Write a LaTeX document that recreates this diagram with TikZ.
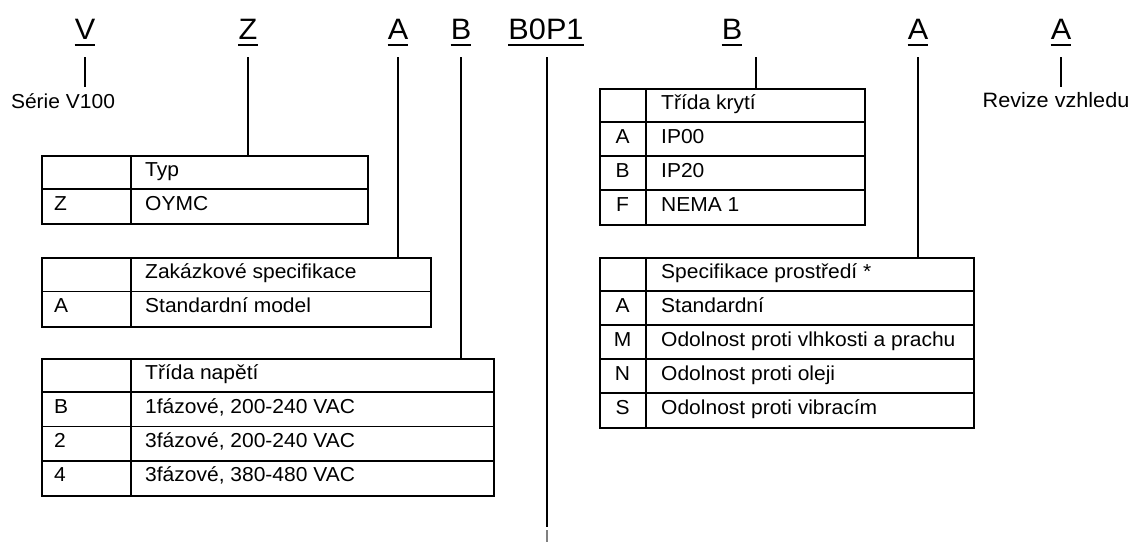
\documentclass[tikz,border=0pt]{standalone}
\usepackage{fontspec}
\setmainfont{Liberation Sans}[FakeStretch=1.04]
\begin{document}
\begin{tikzpicture}[x=1pt,y=-1pt,
  big/.style={font=\fontsize{29.5}{34}\selectfont, inner sep=0pt, anchor=base},
  txt/.style={font=\fontsize{20.2}{24}\selectfont, inner sep=0pt, anchor=base west},
  ltr/.style={txt, anchor=base},
  conn/.style={line width=1.3pt},
  tbl/.style={line width=1.6pt},
  tblbox/.style={draw, line width=1.6pt, inner sep=0pt, anchor=north west},
  ul/.style={line width=1.5pt}]
\useasboundingbox (0,0) rectangle (1135,542);

% code letters
\foreach \n/\x/\lab in {v/85/V, z/248/Z, a1/398/A, b1/461/B, code/546/B0P1, b2/732/B, a2/918/A, a3/1061/A} {
  \node[big] (\n) at (\x,39.5) {\lab};
  \draw[ul] ([yshift=-5.5pt]\n.base west) -- ([yshift=-5.5pt]\n.base east);
}

% side labels
\node[txt, anchor=base] (serie) at (63,108) {Série V100};
\node[txt, anchor=base, font=\fontsize{20.8}{24}\selectfont] (rev) at (1056,107) {Revize vzhledu};

% table Typ
\node[tblbox, minimum width=326pt, minimum height=68pt] (typ) at (41,155) {};
\draw[tbl] (131,155) -- (131,223);
\draw[tbl] (41,189) -- (367,189);
\node[txt] (typh) at (145,176) {Typ};
\node[txt] (typ1l) at (54,210) {Z};
\node[txt] (typ1) at (145,210) {OYMC};

% table Zakazkove
\node[tblbox, minimum width=389pt, minimum height=69pt] (zak) at (41,257) {};
\draw[tbl] (131,257) -- (131,326);
\draw[tbl] (41,291.5) -- (430,291.5);
\node[txt] (zakh) at (145,278) {Zakázkové specifikace};
\node[txt] (zak1l) at (54,312.5) {A};
\node[txt] (zak1) at (145,312.5) {Standardní model};

% table Napeti
\node[tblbox, minimum width=452pt, minimum height=137pt] (nap) at (41,358) {};
\draw[tbl] (131,358) -- (131,495);
\foreach \yy in {392.25,426.5,460.75} \draw[tbl] (41,\yy) -- (493,\yy);
\node[txt] (naph) at (145,379) {Třída napětí};
\node[txt] (nap1l) at (54,413.25) {B};
\node[txt] (nap1) at (145,413.25) {1fázové, 200-240 VAC};
\node[txt] (nap2l) at (54,447.5) {2};
\node[txt] (nap2) at (145,447.5) {3fázové, 200-240 VAC};
\node[txt] (nap3l) at (54,481.75) {4};
\node[txt] (nap3) at (145,481.75) {3fázové, 380-480 VAC};

% table Krytí
\node[tblbox, minimum width=265pt, minimum height=136pt] (kryti) at (599,88) {};
\draw[tbl] (646,88) -- (646,224);
\foreach \yy in {122,156,190} \draw[tbl] (599,\yy) -- (864,\yy);
\node[txt] (krh) at (661,109) {Třída krytí};
\node[ltr] (kr1l) at (622.5,143) {A};
\node[txt] (kr1) at (661,143) {IP00};
\node[ltr] (kr2l) at (622.5,177) {B};
\node[txt] (kr2) at (661,177) {IP20};
\node[ltr] (kr3l) at (622.5,211) {F};
\node[txt] (kr3) at (661,211) {NEMA 1};

% table Specifikace prostredi
\node[tblbox, minimum width=374pt, minimum height=170pt] (spec) at (599,257) {};
\draw[tbl] (646,257) -- (646,427);
\foreach \yy in {291,325,359,393} \draw[tbl] (599,\yy) -- (973,\yy);
\node[txt] (sph) at (661,278) {Specifikace prostředí *};
\node[ltr] (sp1l) at (622.5,312) {A};
\node[txt] (sp1) at (661,312) {Standardní};
\node[ltr] (sp2l) at (622.5,346) {M};
\node[txt] (sp2) at (661,346) {Odolnost proti vlhkosti a prachu};
\node[ltr] (sp3l) at (622.5,380) {N};
\node[txt] (sp3) at (661,380) {Odolnost proti oleji};
\node[ltr] (sp4l) at (622.5,414) {S};
\node[txt] (sp4) at (661,414) {Odolnost proti vibracím};

% connectors
\draw[conn] (v.base |- 0,57) -- ([yshift=6pt]serie.north -| v.base);
\draw[conn] (z.base |- 0,57) -- (z.base |- typ.north);
\draw[conn] (a1.base |- 0,57) -- (a1.base |- zak.north);
\draw[conn] (b1.base |- 0,57) -- (b1.base |- nap.north);
\coordinate (codeend) at (547,527);
\coordinate (codetail) at (547,530);
\coordinate (codefoot) at (547,542);
\draw[conn] (codeend |- 0,57) -- (codeend);
\draw[conn, gray] (codetail) -- (codefoot);
\draw[conn] ([xshift=24pt]b2.base |- 0,57) -- ([xshift=24pt]b2.base |- kryti.north);
\draw[conn] (a2.base |- 0,57) -- (a2.base |- spec.north);
\draw[conn] (a3.base |- 0,57) -- ([yshift=5pt]rev.north -| a3.base);
\end{tikzpicture}
\end{document}
